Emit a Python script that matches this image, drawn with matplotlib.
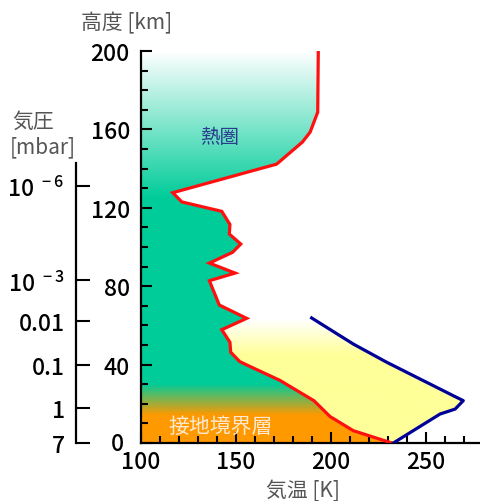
import numpy as np
import matplotlib.pyplot as plt
from matplotlib.patches import Polygon
from matplotlib.ticker import MultipleLocator
from matplotlib.transforms import ScaledTranslation

plt.rcParams['font.family'] = ['Noto Sans CJK JP', 'DejaVu Sans']

# red: air temperature profile (K) vs altitude (km)
temp_k = [232, 211.7, 199.5, 191, 173, 161, 152, 147.2, 146.8, 142.5, 155.6,
          141.2, 136, 149.5, 136, 148.2, 152.5, 146.5, 146.8, 142.5, 121.5,
          116.7, 171.4, 185, 189, 193, 193.3]
alt_km = [0, 6.3, 13.5, 21.6, 32, 37.4, 41.5, 46.3, 51.4, 57.8, 63.6,
          70.4, 82.8, 86.7, 91.8, 97.3, 101.5, 106.6, 111.5, 118.2, 123,
          127.7, 142.3, 153.6, 158.6, 168.8, 200]

# blue: second profile
blue_temp = [232.8, 257.4, 265.3, 269.6, 264.4, 229.3, 211.7, 189.8]
blue_alt = [0, 14.8, 17.3, 21.6, 24.1, 41.2, 50.5, 63.8]

# pressure axis
p_alt = [131, 83, 62, 40, 18, 0]
p_labels = [r'$\mathregular{10^{\ -6}}$', r'$\mathregular{10^{\ -3}}$',
            '0.01', '0.1', '1', '7']

X0, X1 = 100, 278.4
W, H = 480, 502

fig = plt.figure(figsize=(W / 100, H / 100), dpi=100)
ax = fig.add_axes([141 / W, 58 / H, (W - 141) / W, 392 / H])


def gradient(stops, n=400):
    z = np.linspace(0, 200, n)
    zs = [s[0] for s in stops]
    img = np.ones((n, 2, 4))
    for c in range(3):
        img[:, :, c] = np.interp(z, zs, [s[1][c] for s in stops])[:, None]
    return img


orange = (1.0, 0.6, 0.0)
green = (0.0, 0.8, 0.6)
yellow = (1.0, 1.0, 0.6)
white = (1.0, 1.0, 1.0)

# green / orange area left of the red line
poly_g = Polygon([(X0, 0)] + list(zip(temp_k, alt_km)) + [(X0, 200)],
                 closed=True, facecolor='none', edgecolor='none')
ax.add_patch(poly_g)
im = ax.imshow(gradient([(0, orange), (14, orange), (30, green), (125, green), (200, white)]),
               extent=[X0, X1, 0, 200], origin='lower', aspect='auto',
               interpolation='bilinear', zorder=1)
im.set_clip_path(poly_g)

# yellow area between red and blue lines
n_top = alt_km.index(63.6)
verts = list(zip(temp_k[:n_top + 1], alt_km[:n_top + 1])) + \
    list(zip(blue_temp[::-1], blue_alt[::-1]))
poly_y = Polygon(verts, closed=True, facecolor='none', edgecolor='none')
ax.add_patch(poly_y)
im2 = ax.imshow(gradient([(0, yellow), (45, yellow), (63, white), (200, white)]),
                extent=[X0, X1, 0, 200], origin='lower', aspect='auto',
                interpolation='bilinear', zorder=1)
im2.set_clip_path(poly_y)

ax.plot(temp_k, alt_km, color='#ff1010', lw=2.3, zorder=3, solid_joinstyle='miter')
ax.plot(blue_temp, blue_alt, color='#000099', lw=2.3, zorder=3)

ax.set_xlim(X0, X1)
ax.set_ylim(0, 200)
for s in ['top', 'right']:
    ax.spines[s].set_visible(False)
for s in ['left', 'bottom']:
    ax.spines[s].set_linewidth(1.6)
ax.set_xticks([100, 150, 200, 250])
ax.set_yticks([0, 40, 80, 120, 160, 200])
ax.xaxis.set_minor_locator(MultipleLocator(10))
ax.yaxis.set_minor_locator(MultipleLocator(10))
ax.tick_params(which='major', direction='in', length=8, width=1.5, labelsize=16.5, pad=5)
ax.tick_params(which='minor', direction='in', length=5, width=1.5)
ax.tick_params(axis='y', pad=8)
for lab in ax.get_xticklabels() + ax.get_yticklabels():
    lab.set_fontweight('medium')
# nudge the "0" label so it does not collide with "100"
zero_lab = ax.yaxis.get_major_ticks()[0].label1
zero_lab.set_transform(zero_lab.get_transform() +
                       ScaledTranslation(-6 / 100, 2 / 100, fig.dpi_scale_trans))

ax.text(141.6, 156.6, '熱圏', color='#2a3c8c', fontsize=14, ha='center', va='center', zorder=4)
ax.text(142.1, 9, '接地境界層', color='#fde8d0', fontsize=15, ha='center', va='center', zorder=4)

# pressure axis
ax2 = fig.add_axes([76 / W, 58 / H, 0.002, 392 / H])
ax2.set_ylim(0, 200)
ax2.patch.set_visible(False)
for s in ['top', 'right', 'bottom']:
    ax2.spines[s].set_visible(False)
ax2.spines['left'].set_linewidth(1.6)
ax2.spines['left'].set_bounds(0, 143)
ax2.set_xticks([])
ax2.set_yticks(p_alt)
ax2.set_yticklabels(p_labels, fontweight='medium')
ax2.tick_params(axis='y', direction='in', length=10, width=1.5, labelsize=16.5, pad=8)

fig.text(127 / W, 1 - 23 / H, '高度 [km]', color='#555555', fontsize=15, ha='center', va='center')
fig.text(12 / W, 1 - 122 / H, '気圧', color='#555555', fontsize=15, ha='left', va='center')
fig.text(10 / W, 1 - 147 / H, '[mbar]', color='#555555', fontsize=15, ha='left', va='center')
fig.text(303 / W, 1 - 491 / H, '気温 [K]', color='#555555', fontsize=15, ha='center', va='center')

fig.savefig('out.png', dpi=100)
